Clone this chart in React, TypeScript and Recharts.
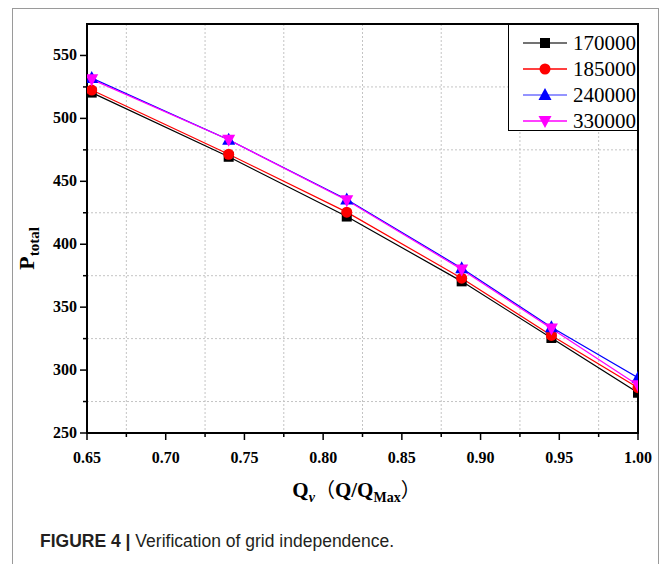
import {
  LineChart,
  Line,
  XAxis,
  YAxis,
  CartesianGrid,
  ReferenceArea,
  Label,
} from "recharts";

// Normalised flow rate Q/Qmax
const flowRates = [0.653, 0.74, 0.815, 0.888, 0.945, 1.0];

// Total pressure for each mesh size
const mesh170000 = [520.5, 469.5, 422, 370.5, 325.5, 282];
const mesh185000 = [522.5, 471.5, 425.5, 373, 327.5, 286];
const mesh240000 = [532, 483, 435.5, 381, 334, 294];
const mesh330000 = [531, 483, 435, 380, 333, 288];

const xMajorTicks = [0.65, 0.7, 0.75, 0.8, 0.85, 0.9, 0.95, 1.0];
const xMinorTicks = [0.675, 0.725, 0.775, 0.825, 0.875, 0.925, 0.975];
const yMajorTicks = [250, 300, 350, 400, 450, 500, 550];
const yMinorTicks = [275, 325, 375, 425, 475, 525];

type Shape = "square" | "circle" | "triangle" | "triangleDown";

const series: { key: string; name: string; color: string; legendColor: string; shape: Shape; values: number[] }[] = [
  { key: "m170", name: "170000", color: "#000000", legendColor: "#444444", shape: "square", values: mesh170000 },
  { key: "m185", name: "185000", color: "#ff0000", legendColor: "#ff0000", shape: "circle", values: mesh185000 },
  { key: "m240", name: "240000", color: "#0000ff", legendColor: "#7070ff", shape: "triangle", values: mesh240000 },
  { key: "m330", name: "330000", color: "#ff00ff", legendColor: "#ff00ff", shape: "triangleDown", values: mesh330000 },
];

const data = flowRates.map((q, i) => {
  const row: Record<string, number> = { q };
  series.forEach((s) => {
    row[s.key] = s.values[i];
  });
  return row;
});

const SERIF = "'Times New Roman', 'Liberation Serif', serif";

function Marker({ cx, cy, shape, color }: { cx: number; cy: number; shape: Shape; color: string }) {
  if (cx == null || cy == null) return null;
  if (shape === "square") {
    return <rect x={cx - 5} y={cy - 5} width={10} height={10} fill={color} />;
  }
  if (shape === "circle") {
    return <circle cx={cx} cy={cy} r={5.5} fill={color} />;
  }
  if (shape === "triangle") {
    return <polygon points={`${cx},${cy - 7} ${cx + 6.5},${cy + 5} ${cx - 6.5},${cy + 5}`} fill={color} />;
  }
  return <polygon points={`${cx},${cy + 7} ${cx + 6.5},${cy - 5} ${cx - 6.5},${cy - 5}`} fill={color} />;
}

const XTick = (props: any) => {
  const { x, y, payload } = props;
  const v = payload.value as number;
  const major = xMajorTicks.some((t) => Math.abs(t - v) < 1e-6);
  return (
    <g>
      <line x1={x} y1={y} x2={x} y2={y + (major ? 7 : 4)} stroke="#000" strokeWidth={1.5} />
      {major && (
        <text x={x} y={y + 30} textAnchor="middle" fontFamily={SERIF} fontWeight="bold" fontSize={16} fill="#000">
          {v.toFixed(2)}
        </text>
      )}
    </g>
  );
};

const YTick = (props: any) => {
  const { x, y, payload } = props;
  const v = payload.value as number;
  const major = yMajorTicks.includes(v);
  return (
    <g>
      <line x1={x} y1={y} x2={x - (major ? 7 : 4)} y2={y} stroke="#000" strokeWidth={1.5} />
      {major && (
        <text x={x - 10} y={y + 5} textAnchor="end" fontFamily={SERIF} fontWeight="bold" fontSize={16} fill="#000">
          {v}
        </text>
      )}
    </g>
  );
};

const XTitle = (props: any) => {
  const vb = props.viewBox || { x: 87, y: 433, width: 551 };
  const cx = vb.x + vb.width / 2 - 6;
  return (
    <text x={cx} y={vb.y + 64} textAnchor="middle" fontFamily={SERIF} fontWeight="bold" fontSize={21} fill="#000">
      Q
      <tspan fontSize={14} fontStyle="italic" dy={5}>v</tspan>
      <tspan dy={-5} fontFamily="'Noto Sans CJK SC', sans-serif" fontWeight="normal" fontSize={20}>（</tspan>
      <tspan>Q/Q</tspan>
      <tspan fontSize={14} dy={5}>Max</tspan>
      <tspan dy={-5} fontFamily="'Noto Sans CJK SC', sans-serif" fontWeight="normal" fontSize={20}>）</tspan>
    </text>
  );
};

const YTitle = (props: any) => {
  const vb = props.viewBox || { x: 27, y: 24, height: 409 };
  const cy = vb.y + vb.height / 2 + 20;
  const cx = 34;
  return (
    <text
      x={cx}
      y={cy}
      transform={`rotate(-90, ${cx}, ${cy})`}
      textAnchor="middle"
      fontFamily={SERIF}
      fontWeight="bold"
      fontSize={22}
      fill="#000"
    >
      P
      <tspan fontSize={15} dy={5}>total</tspan>
    </text>
  );
};

// Legend drawn as an overlay box in the top-right corner of the plot
const LegendBox = () => (
  <div
    style={{
      position: "absolute",
      left: 508,
      top: 24,
      border: "1px solid #000",
      background: "#fff",
      width: 130,
      height: 107,
      boxSizing: "border-box",
      paddingTop: 5,
    }}
  >
    {series.map((s) => (
      <div key={s.key} style={{ display: "flex", alignItems: "center", height: 26 }}>
        <svg width={58} height={20} style={{ flex: "none" }}>
          <line x1={14} y1={10} x2={58} y2={10} stroke={s.legendColor} strokeWidth={1.5} />
          <Marker cx={36} cy={10} shape={s.shape} color={s.color} />
        </svg>
        <span style={{ fontFamily: SERIF, fontSize: 21, color: "#000", marginLeft: 6, lineHeight: "20px" }}>
          {s.name}
        </span>
      </div>
    ))}
  </div>
);

export default function App() {
  return (
    <div style={{ position: "absolute", left: 0, top: 0, width: 664, height: 564, background: "#fff", overflow: "hidden" }}>
      <div
        style={{
          position: "absolute",
          left: 12,
          top: 8,
          width: 647,
          height: 600,
          border: "1.5px solid #9a9a9a",
          boxSizing: "border-box",
        }}
      />
      <div style={{ position: "absolute", left: 0, top: 0 }}>
        <LineChart width={664} height={510} data={data} margin={{ top: 24, right: 26, bottom: 47, left: 27 }}>
          <CartesianGrid
            stroke="#c4c4c4"
            strokeDasharray="2 2"
            verticalValues={xMinorTicks}
            horizontalValues={yMinorTicks}
          />
          <XAxis
            dataKey="q"
            type="number"
            domain={[0.65, 1.0]}
            ticks={[...xMajorTicks, ...xMinorTicks].sort((a, b) => a - b)}
            interval={0}
            allowDataOverflow
            stroke="#000"
            strokeWidth={2}
            tickLine={false}
            tickSize={0}
            tickMargin={0}
            tick={<XTick />}
            height={30}
          >
            <Label content={<XTitle />} />
          </XAxis>
          <YAxis
            type="number"
            domain={[250, 575]}
            ticks={[...yMajorTicks, ...yMinorTicks].sort((a, b) => a - b)}
            interval={0}
            allowDataOverflow
            stroke="#000"
            strokeWidth={2}
            tickLine={false}
            tickSize={0}
            tickMargin={0}
            tick={<YTick />}
            width={60}
          >
            <Label content={<YTitle />} />
          </YAxis>
          <ReferenceArea x1={0.65} x2={1.0} y1={250} y2={575} fill="none" stroke="#000" strokeWidth={2} />
          {series.map((s) => (
            <Line
              key={s.key}
              dataKey={s.key}
              name={s.name}
              type="linear"
              stroke={s.color}
              strokeWidth={1.2}
              isAnimationActive={false}
              dot={(p: any) => <Marker key={`${s.key}-${p.index}`} cx={p.cx} cy={p.cy} shape={s.shape} color={s.color} />}
              activeDot={false}
            />
          ))}
        </LineChart>
      </div>
      <LegendBox />
      <div
        style={{
          position: "absolute",
          left: 40,
          top: 531,
          fontFamily: "'Liberation Sans', Arial, sans-serif",
          fontSize: 17.5,
          color: "#231f20",
          whiteSpace: "nowrap",
        }}
      >
        <b>FIGURE 4</b> <b>|</b> Verification of grid independence.
      </div>
    </div>
  );
}
